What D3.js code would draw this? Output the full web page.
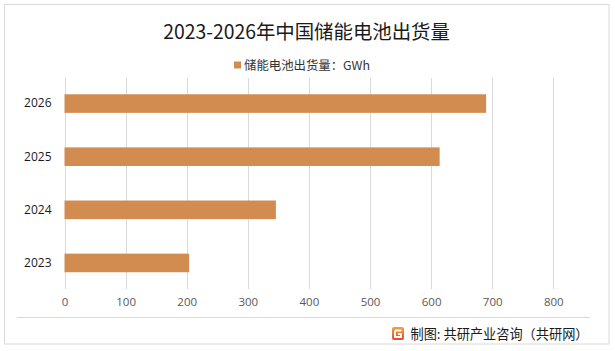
<!DOCTYPE html>
<html><head><meta charset="utf-8">
<script src="https://cdn.jsdelivr.net/npm/d3@7"></script>
<style>
html,body{margin:0;padding:0;background:#fff;}
svg{display:block;font-family:"Noto Sans CJK SC","Noto Sans",sans-serif;}
</style></head>
<body>
<svg id="c" width="615" height="351"></svg>
<script>
const categories = ["2023","2024","2025","2026"];
const values = [204, 346, 614, 690];
const xTicks = [0,100,200,300,400,500,600,700,800];
const title = "2023-2026年中国储能电池出货量";
const seriesName = "储能电池出货量：GWh";
const source = "制图: 共研产业咨询（共研网）";

const svg = d3.select("#c");
const barColor = "#D38C50";

// outer frame
svg.append("rect").attr("x",4.5).attr("y",4.5).attr("width",604.5).attr("height",339.5)
  .attr("fill","#fff").attr("stroke","#d9d9d9").attr("stroke-width",1);

// title
svg.append("text").attr("x",306.5).attr("y",38.5).attr("text-anchor","middle")
  .attr("font-size",19.4).attr("fill","#1a1a1a").text(title);

// legend
svg.append("rect").attr("x",234).attr("y",61.5).attr("width",7).attr("height",7).attr("fill",barColor);
svg.append("text").attr("x",244).attr("y",70).attr("font-size",12.4).attr("fill","#333").text(seriesName);

const x = d3.scaleLinear().domain([0,800]).range([64.5,553.3]);
const y = d3.scaleBand().domain(categories.slice().reverse()).range([77,289.5]).paddingInner(0.65).paddingOuter(0.325);

// gridlines
svg.append("g").selectAll("line").data(xTicks).join("line")
  .attr("x1",d=>Math.round(x(d))+0.5).attr("x2",d=>Math.round(x(d))+0.5)
  .attr("y1",78).attr("y2",289)
  .attr("stroke","#d9d9d9").attr("stroke-width",1);

// bars
svg.append("g").selectAll("rect").data(categories.map((c,i)=>({c,v:values[i]}))).join("rect")
  .attr("x",x(0)).attr("y",d=>y(d.c)).attr("width",d=>x(d.v)-x(0)).attr("height",y.bandwidth())
  .attr("fill",barColor);

// x axis labels
const xa = svg.append("g").attr("transform","translate(0,289)")
  .call(d3.axisBottom(x).tickValues(xTicks).tickSize(0).tickPadding(9));
xa.select(".domain").remove();
xa.selectAll("text").attr("font-size",11.5).attr("fill","#595959").attr("font-family","'Open Sans','Noto Sans',sans-serif");

// y axis labels
const ya = svg.append("g").attr("transform","translate(64.5,0)")
  .call(d3.axisLeft(y).tickSize(0).tickPadding(13));
ya.select(".domain").remove();
ya.selectAll("text").attr("font-size",12).attr("fill","#1a1a1a").attr("font-family","'Open Sans','Noto Sans',sans-serif");

// separator line
svg.append("line").attr("x1",17).attr("x2",590).attr("y1",317.5).attr("y2",317.5)
  .attr("stroke","#d9d9d9").attr("stroke-width",1);

// footer icon
const ic = svg.append("g").attr("transform","translate(392,327)");
const grad = svg.append("defs").append("linearGradient").attr("id","ig").attr("x1",0).attr("y1",0).attr("x2",0).attr("y2",1);
grad.append("stop").attr("offset","0%").attr("stop-color","#F7A13A");
grad.append("stop").attr("offset","100%").attr("stop-color","#E8462A");
ic.append("rect").attr("width",12).attr("height",13).attr("rx",2).attr("fill","url(#ig)");
ic.append("path").attr("d","M3,3.5 H9.5 M3,3.5 V10 H9 V7 H6").attr("fill","none").attr("stroke","#fff").attr("stroke-width",2);

svg.append("text").attr("x",410.5).attr("y",339).attr("font-size",13.2).attr("fill","#1a1a1a").text(source);
</script>
</body></html>
